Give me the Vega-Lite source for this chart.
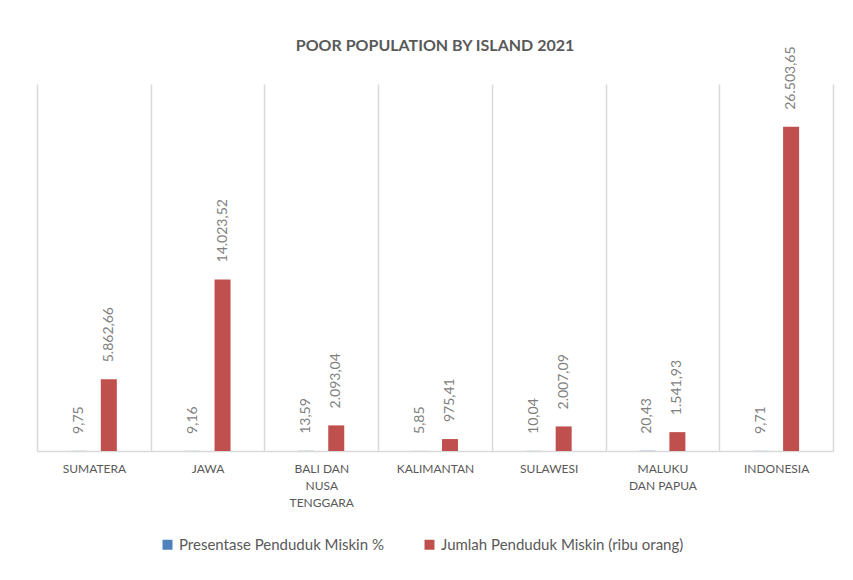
{
  "$schema": "https://vega.github.io/schema/vega-lite/v6.json",
  "width": 796,
  "height": 367,
  "autosize": "none",
  "padding": {"left": 37, "top": 84, "right": 20, "bottom": 129},
  "background": "white",
  "config": {
    "view": {"stroke": null},
    "font": "Lato",
    "locale": {"number": {"decimal": ",", "thousands": ".", "grouping": [3], "currency": ["", ""]}}
  },
  "title": {
    "text": "POOR POPULATION BY ISLAND 2021",
    "fontSize": 16,
    "fontWeight": "bold",
    "color": "#595959",
    "anchor": "middle",
    "offset": -8
  },
  "data": {
    "values": [
      {"island": "SUMATERA", "series": "Presentase Penduduk Miskin %", "value": 9.75},
      {"island": "SUMATERA", "series": "Jumlah Penduduk Miskin (ribu orang)", "value": 5862.66},
      {"island": "JAWA", "series": "Presentase Penduduk Miskin %", "value": 9.16},
      {"island": "JAWA", "series": "Jumlah Penduduk Miskin (ribu orang)", "value": 14023.52},
      {"island": "BALI DAN NUSA TENGGARA", "series": "Presentase Penduduk Miskin %", "value": 13.59},
      {"island": "BALI DAN NUSA TENGGARA", "series": "Jumlah Penduduk Miskin (ribu orang)", "value": 2093.04},
      {"island": "KALIMANTAN", "series": "Presentase Penduduk Miskin %", "value": 5.85},
      {"island": "KALIMANTAN", "series": "Jumlah Penduduk Miskin (ribu orang)", "value": 975.41},
      {"island": "SULAWESI", "series": "Presentase Penduduk Miskin %", "value": 10.04},
      {"island": "SULAWESI", "series": "Jumlah Penduduk Miskin (ribu orang)", "value": 2007.09},
      {"island": "MALUKU DAN PAPUA", "series": "Presentase Penduduk Miskin %", "value": 20.43},
      {"island": "MALUKU DAN PAPUA", "series": "Jumlah Penduduk Miskin (ribu orang)", "value": 1541.93},
      {"island": "INDONESIA", "series": "Presentase Penduduk Miskin %", "value": 9.71},
      {"island": "INDONESIA", "series": "Jumlah Penduduk Miskin (ribu orang)", "value": 26503.65}
    ]
  },
  "encoding": {
    "x": {
      "field": "island",
      "type": "nominal",
      "sort": null,
      "scale": {"paddingInner": 0, "paddingOuter": 0},
      "axis": {
        "title": null,
        "labelAngle": 0,
        "labelColor": "#595959",
        "labelFontSize": 12,
        "labelPadding": 12,
        "labelLineHeight": 17,
        "labelBaseline": "top",
        "labelExpr": "datum.label == 'BALI DAN NUSA TENGGARA' ? ['BALI DAN', 'NUSA', 'TENGGARA'] : datum.label == 'MALUKU DAN PAPUA' ? ['MALUKU', 'DAN PAPUA'] : datum.label",
        "ticks": false,
        "domainColor": "#d9d9d9",
        "domainWidth": 1.5,
        "grid": true,
        "gridColor": "#d9d9d9",
        "gridWidth": 1.5,
        "tickBand": "extent"
      }
    },
    "xOffset": {
      "field": "series",
      "type": "nominal",
      "sort": ["Presentase Penduduk Miskin %", "Jumlah Penduduk Miskin (ribu orang)"],
      "scale": {"paddingInner": 0, "paddingOuter": 0.9}
    },
    "y": {
      "field": "value",
      "type": "quantitative",
      "scale": {"domain": [0, 30000]},
      "axis": null
    }
  },
  "layer": [
    {
      "mark": {"type": "bar", "width": 16},
      "encoding": {
        "color": {
          "field": "series",
          "type": "nominal",
          "sort": ["Presentase Penduduk Miskin %", "Jumlah Penduduk Miskin (ribu orang)"],
          "scale": {"range": ["#4f81bd", "#c0504d"]},
          "legend": {
            "title": null,
            "orient": "none",
            "legendX": 123,
            "legendY": 453,
            "direction": "horizontal",
            "symbolType": "square",
            "symbolSize": 100,
            "symbolStrokeWidth": 0,
            "labelFontSize": 15,
            "labelLimit": 400,
            "labelColor": "#595959",
            "labelOffset": 4,
            "columnPadding": 38
          }
        }
      }
    },
    {
      "mark": {"type": "text", "angle": -90, "align": "left", "baseline": "middle", "dx": 17, "fontSize": 14, "color": "#7f7f7f"},
      "encoding": {
        "text": {"field": "value", "type": "quantitative", "format": ",.2f"}
      }
    }
  ]
}
